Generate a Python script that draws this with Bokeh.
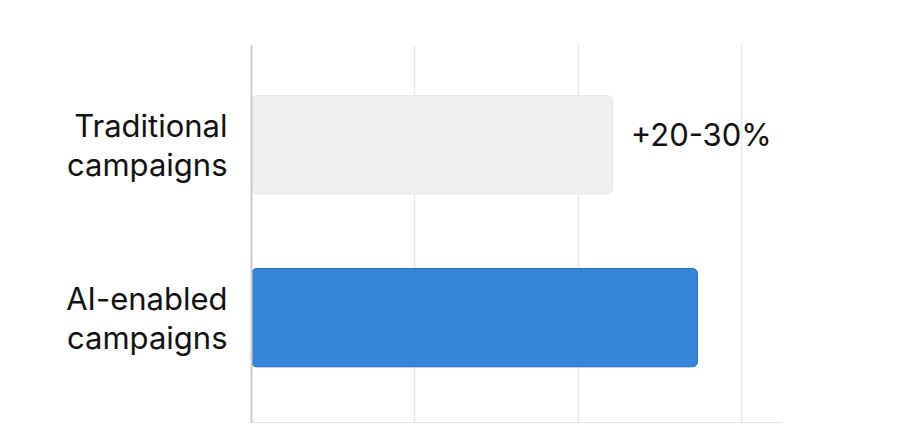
from bokeh.plotting import figure
from bokeh.models import ColumnDataSource, FixedTicker, Range1d, Label
from bokeh.embed import file_html
from bokeh.resources import INLINE

categories = ["AI-enabled\ncampaigns", "Traditional\ncampaigns"]
values = [68.2, 55.2]
colors = ["#3386D8", "#EFEFEF"]
edge_colors = ["#1F6EC2", "#E6E6E6"]
x_grid_ticks = [25, 50, 75]
annotation_text = "+20-30%"
annotation_x = 58
annotation_cat = 1

ypos = list(range(len(categories)))
src = ColumnDataSource(dict(y=ypos, v=values, c=colors, e=edge_colors))

p = figure(width=909, height=423, output_backend="svg", toolbar_location=None,
           x_range=Range1d(0, 81.2), y_range=Range1d(-0.612, 1.574),
           min_border_left=251, min_border_right=127, min_border_top=45, min_border_bottom=0)
p.outline_line_color = None
p.background_fill_color = "white"

p.hbar(y="y", right="v", left=0, height=0.568, source=src, fill_color="c",
       line_color="e", line_width=1, border_radius=5)

p.add_layout(Label(x=annotation_x, y=ypos[annotation_cat] + 0.058, text=annotation_text,
                   text_font="Inter", text_font_size="31px", text_color="#111111",
                   text_baseline="middle", text_align="left"))

p.xaxis.ticker = FixedTicker(ticks=[])
p.xaxis.major_tick_line_color = None
p.xaxis.minor_tick_line_color = None
p.xaxis.axis_line_color = "#CCCCCC"
p.xaxis.axis_line_width = 2
p.xgrid.ticker = FixedTicker(ticks=x_grid_ticks)
p.xgrid.grid_line_color = "#E8E8E8"
p.xgrid.grid_line_width = 1.5
p.ygrid.grid_line_color = None

p.yaxis.ticker = FixedTicker(ticks=ypos)
p.yaxis.major_label_overrides = {i: c for i, c in zip(ypos, categories)}
p.yaxis.major_label_text_font = "Inter"
p.yaxis.major_label_text_font_size = "31px"
p.yaxis.major_label_text_line_height = 1.05
p.yaxis.major_label_text_color = "#111111"
p.yaxis.major_label_text_align = "right"
p.yaxis.major_label_standoff = 18
p.yaxis.major_tick_line_color = None
p.yaxis.minor_tick_line_color = None
p.yaxis.axis_line_color = "#CCCCCC"
p.yaxis.axis_line_width = 2

open("out.html", "w").write(file_html(p, INLINE))
